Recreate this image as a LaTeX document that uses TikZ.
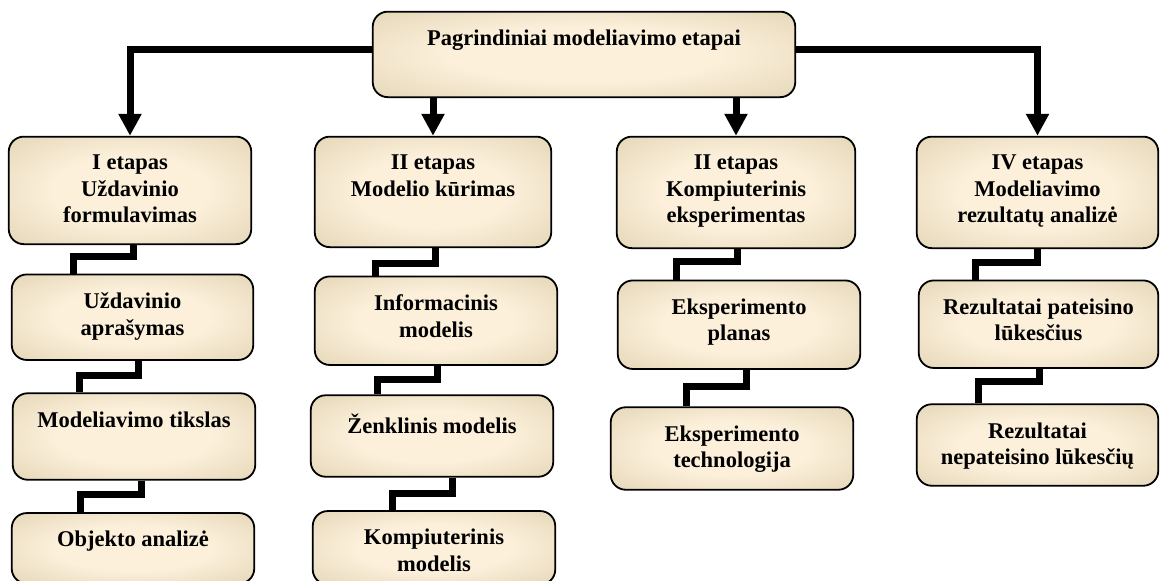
\documentclass[tikz,border=0pt]{standalone}
\usepackage{fontspec}
\setmainfont{Liberation Serif}
\usetikzlibrary{arrows.meta,positioning}
\definecolor{boxin}{HTML}{FCF0DB}
\definecolor{boxout}{HTML}{D3C49E}
\pgfdeclareradialshading{stageshade}{\pgfpoint{0bp}{0bp}}{%
  color(0bp)=(boxin); color(16bp)=(boxin); color(50bp)=(boxout); color(75bp)=(boxout)}

\begin{document}
\begin{tikzpicture}[
  x=1pt, y=1pt,
  font=\fontsize{22.5}{26.5}\selectfont\bfseries,
  stage/.style={draw, line width=1.8pt, rounded corners=15pt, shade, shading=stageshade, inner sep=0pt},
  txt/.style={align=center, inner sep=0pt},
  feed/.style={-{Triangle[width=22pt,length=22pt]}, line width=7pt},
  link/.style={line width=7pt}
]
\useasboundingbox (0,0) rectangle (1160,-581);

% top
\node[stage, minimum width=422.5, minimum height=85.5, anchor=north] (top) at (584,-10.75) {};
\node[txt, below=19pt of top.north] (topt) {Pagrindiniai modeliavimo etapai};

% I etapas
\node[stage, minimum width=242.5, minimum height=107.5, anchor=north] (e1) at (130,-135.75) {};
\node[txt, below=19pt of e1.north] (e1t) {I etapas\\Uždavinio\\formulavimas};
\node[stage, minimum width=241.5, minimum height=85.5, below=28.5pt of e1, xshift=2.5pt] (a2) {};
\node[txt, below=19pt of a2.north] (a2t) {Uždavinio\\aprašymas};
\node[stage, minimum width=242.5, minimum height=86.5, below=31.5pt of a2, xshift=1.5pt] (a3) {};
\node[txt, below=19pt of a3.north] (a3t) {Modeliavimo tikslas};
\node[stage, minimum width=242.5, minimum height=70.5, below=31.5pt of a3, xshift=-1pt] (a4) {};
\node[txt, below=19pt of a4.north] (a4t) {Objekto analizė};

% II etapas
\node[stage, minimum width=236.5, minimum height=110.5, anchor=north] (e2) at (433,-135.75) {};
\node[txt, below=19pt of e2.north] (e2t) {II etapas\\Modelio kūrimas};
\node[stage, minimum width=242.5, minimum height=88.5, below=27.5pt of e2, xshift=3pt] (b2) {};
\node[txt, below=19pt of b2.north] (b2t) {Informacinis\\modelis};
\node[stage, minimum width=242.5, minimum height=81.5, below=28.5pt of b2, xshift=-4pt] (b3) {};
\node[txt, below=19pt of b3.north] (b3t) {Ženklinis modelis};
\node[stage, minimum width=242.5, minimum height=73.5, below=32.5pt of b3, xshift=2pt] (b4) {};
\node[txt, below=19pt of b4.north] (b4t) {Kompiuterinis\\modelis};

% III etapas
\node[stage, minimum width=238.5, minimum height=111.5, anchor=north] (e3) at (736,-135.75) {};
\node[txt, below=19pt of e3.north] (e3t) {II etapas\\Kompiuterinis\\eksperimentas};
\node[stage, minimum width=242.5, minimum height=88.5, below=30.5pt of e3, xshift=3pt] (c2) {};
\node[txt, below=19pt of c2.north] (c2t) {Eksperimento\\planas};
\node[stage, minimum width=242.5, minimum height=82.5, below=36.5pt of c2, xshift=-7pt] (c3) {};
\node[txt, below=19pt of c3.north] (c3t) {Eksperimento\\technologija};

% IV etapas
\node[stage, minimum width=241.5, minimum height=111.5, anchor=north] (e4) at (1037.5,-135.75) {};
\node[txt, below=19pt of e4.north] (e4t) {IV etapas\\Modeliavimo\\rezultatų analizė};
\node[stage, minimum width=239.5, minimum height=87.5, below=30.5pt of e4, xshift=1pt] (d2) {};
\node[txt, below=19pt of d2.north] (d2t) {Rezultatai pateisino\\lūkesčius};
\node[stage, minimum width=241.5, minimum height=81.5, below=34.5pt of d2, xshift=-1pt] (d3) {};
\node[txt, below=19pt of d3.north] (d3t) {Rezultatai\\nepateisino lūkesčių};

% arrows from the top box
\draw[feed] ([yshift=4.5pt]top.west) -| (e1.north);
\draw[feed] (e2.north |- top.south) -- (e2.north);
\draw[feed] (e3.north |- top.south) -- (e3.north);
\draw[feed] ([yshift=4.5pt]top.east) -| (e4.north);

% steps inside the columns
\draw[link] ([xshift=3pt]e1.south) -- ++(0,-11) -| ([xshift=-59.5pt]a2.north);
\draw[link] ([xshift=5.5pt]a2.south) -- ++(0,-15) -| ([xshift=-55pt]a3.north);
\draw[link] ([xshift=7pt]a3.south) -- ++(0,-14) -| ([xshift=-53pt]a4.north);
\draw[link] ([xshift=2pt]e2.south) -- ++(0,-15) -| ([xshift=-61pt]b2.north);
\draw[link] ([xshift=1pt]b2.south) -- ++(0,-14) -| ([xshift=-55pt]b3.north);
\draw[link] ([xshift=20pt]b3.south) -- ++(0,-16) -| ([xshift=-42pt]b4.north);
\draw[link] ([xshift=1pt]e3.south) -- ++(0,-12) -| ([xshift=-63pt]c2.north);
\draw[link] ([xshift=7pt]c2.south) -- ++(0,-17) -| ([xshift=-46pt]c3.north);
\draw[link] (e4.south) -- ++(0,-13) -| ([xshift=-63.5pt]d2.north);
\draw[link] ([xshift=0.5pt]d2.south) -- ++(0,-13) -| ([xshift=-59.5pt]d3.north);
\end{tikzpicture}
\end{document}
